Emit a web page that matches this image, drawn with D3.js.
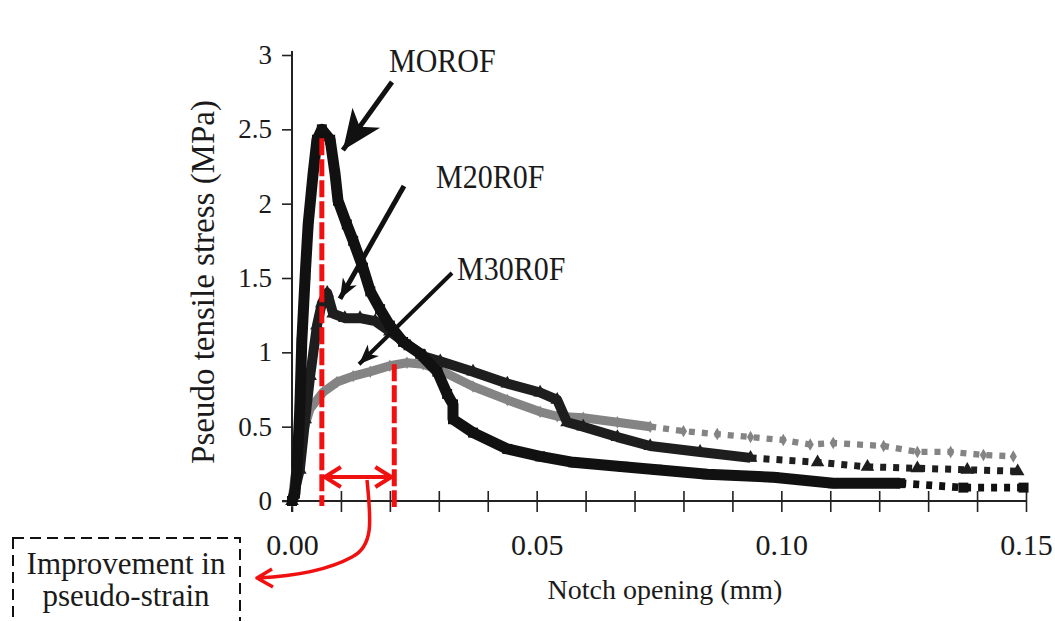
<!DOCTYPE html>
<html lang="en">
<head>
    <meta charset="UTF-8">
    <title>Pseudo tensile stress vs notch opening</title>
    <script src="https://d3js.org/d3.v7.min.js"></script>
    <style>
        body { margin: 0; background: #fff; }
        text { font-family: "Liberation Serif", "Times New Roman", serif; fill: #1a1a1a; }
    </style>
</head>
<body>
    <script>
        // Values: [notch opening (mm), stress (MPa)]
        const m0r0f = [
            [0, 0], [0.0006, 0.05], [0.001, 0.21], [0.0016, 0.62], [0.002, 1.07],
            [0.0027, 1.52], [0.0033, 1.86], [0.0043, 2.2], [0.0051, 2.43], [0.0061, 2.5],
            [0.0078, 2.43], [0.0088, 2.2], [0.0094, 2.02], [0.0112, 1.86], [0.0125, 1.75],
            [0.0145, 1.57], [0.016, 1.41], [0.018, 1.29], [0.02, 1.18], [0.0227, 1.07],
            [0.0262, 0.99], [0.0297, 0.87], [0.0317, 0.72], [0.0329, 0.65], [0.0329, 0.55],
            [0.037, 0.46], [0.044, 0.35], [0.0507, 0.3], [0.0575, 0.26], [0.0677, 0.23],
            [0.0746, 0.21], [0.0849, 0.18], [0.0984, 0.16], [0.1106, 0.12], [0.1243, 0.12],
            [0.1372, 0.09], [0.1495, 0.09]
        ];
        const m20r0f = [
            [0, 0], [0.0016, 0.21], [0.0027, 0.55], [0.0037, 0.84], [0.0051, 1.18],
            [0.0061, 1.33], [0.0072, 1.4], [0.0084, 1.26], [0.0108, 1.23], [0.0139, 1.23],
            [0.017, 1.21], [0.02, 1.14], [0.0241, 1.04], [0.0272, 0.97], [0.0303, 0.94],
            [0.037, 0.87], [0.044, 0.79], [0.0507, 0.73], [0.0542, 0.68], [0.0562, 0.53],
            [0.0595, 0.5], [0.0665, 0.43], [0.0732, 0.37], [0.0834, 0.33], [0.0937, 0.29],
            [0.1074, 0.26], [0.1176, 0.23], [0.1278, 0.22], [0.138, 0.21], [0.1483, 0.2]
        ];
        const m30r0f = [
            [0, 0], [0.0006, 0.16], [0.0016, 0.39], [0.0037, 0.62], [0.0063, 0.73],
            [0.0092, 0.8], [0.0125, 0.84], [0.016, 0.87], [0.02, 0.91], [0.0235, 0.93],
            [0.0268, 0.92], [0.0303, 0.88], [0.037, 0.77], [0.044, 0.68], [0.0507, 0.6],
            [0.0542, 0.57], [0.0595, 0.56], [0.0665, 0.53], [0.0732, 0.5], [0.08, 0.47],
            [0.0869, 0.45], [0.0937, 0.43], [0.1004, 0.41], [0.1059, 0.38], [0.1106, 0.39],
            [0.1209, 0.37], [0.1278, 0.33], [0.1346, 0.33], [0.1413, 0.31], [0.1474, 0.3]
        ];
        const xLabels = [0, 0.05, 0.10, 0.15];
        const yTicks = [0, 0.5, 1, 1.5, 2, 2.5, 3];
        const seriesNames = ['MOROF', 'M20R0F', 'M30R0F'];
        // improvement in pseudo-strain: peak opening of M0R0F vs M30R0F
        const peakOpenings = [0.0061, 0.0209];

        const width = 1055;
        const height = 621;
        const serif = '"Liberation Serif", "Times New Roman", serif';
        const svg = d3.select('body')
            .append('svg')
            .attr('width', width)
            .attr('height', height);

        const x = d3.scaleLinear().domain([0, 0.15]).range([292, 1026]);
        const y = d3.scaleLinear().domain([0, 3]).range([501, 55]);

        // axes
        const xAxis = d3.axisBottom(x)
            .tickValues(d3.range(0, 16).map(i => i / 100))
            .tickSize(10)
            .tickFormat(d => xLabels.some(v => Math.abs(v - d) < 1e-9) ? d3.format('.2f')(d) : '');
        const gx = svg.append('g')
            .attr('transform', `translate(0,${y(0)})`)
            .call(xAxis)
            .attr('font-family', serif)
            .attr('font-size', 30);
        gx.select('.domain').remove();
        gx.selectAll('.tick line').attr('y1', -10).attr('y2', 11)
            .attr('stroke', '#222').attr('stroke-width', 1.6);
        gx.selectAll('.tick text')
            .attr('y', 54)
            .attr('dy', 0)
            .attr('fill', '#1a1a1a');
        svg.append('line')
            .attr('x1', x(0) - 10).attr('x2', x(0.15))
            .attr('y1', y(0)).attr('y2', y(0))
            .attr('stroke', '#222').attr('stroke-width', 2);

        const yAxis = d3.axisLeft(y)
            .tickValues(yTicks)
            .tickSize(10)
            .tickFormat(d3.format('~g'));
        const gy = svg.append('g')
            .attr('transform', `translate(${x(0)},0)`)
            .call(yAxis)
            .attr('font-family', serif)
            .attr('font-size', 27);
        gy.select('.domain').remove();
        gy.selectAll('.tick line').attr('stroke', '#222').attr('stroke-width', 1.6);
        gy.selectAll('.tick text')
            .attr('x', -20)
            .attr('fill', '#1a1a1a');
        svg.append('line')
            .attr('x1', x(0)).attr('x2', x(0))
            .attr('y1', y(3) - 4).attr('y2', y(0) + 11)
            .attr('stroke', '#222').attr('stroke-width', 2);

        // axis titles
        svg.append('text')
            .attr('x', 665)
            .attr('y', 599)
            .attr('text-anchor', 'middle')
            .style('font-size', '28px')
            .text('Notch opening (mm)');
        svg.append('text')
            .attr('transform', 'translate(214,282) rotate(-90)')
            .attr('text-anchor', 'middle')
            .style('font-size', '33px')
            .text('Pseudo tensile stress (MPa)');

        const line = d3.line().x(d => x(d[0])).y(d => y(d[1]));

        // series: dense band up to a point, then separate markers
        function drawSeries(data, color, bandWidth, cut, symbol, size) {
            const dense = data.filter(d => d[0] <= cut);
            const tail = data.filter(d => d[0] >= dense[dense.length - 1][0]);
            svg.append('path')
                .attr('d', line(dense))
                .attr('fill', 'none')
                .attr('stroke', color)
                .attr('stroke-width', bandWidth)
                .attr('stroke-linejoin', 'round');
            svg.append('path')
                .attr('d', line(tail))
                .attr('fill', 'none')
                .attr('stroke', color)
                .attr('stroke-width', bandWidth * 0.7)
                .attr('stroke-dasharray', '6 7');
            svg.append('g')
                .selectAll('path')
                .data(data)
                .enter()
                .append('path')
                .attr('transform', d => `translate(${x(d[0])},${y(d[1])})`)
                .attr('d', d3.symbol().type(symbol).size(size))
                .attr('fill', color);
        }

        drawSeries(m30r0f, '#848484', 9, 0.075, d3.symbolDiamond, 45);
        drawSeries(m20r0f, '#1e1e1e', 10, 0.1, d3.symbolTriangle, 80);
        drawSeries(m0r0f, '#111', 11, 0.125, d3.symbolSquare, 100);

        // arrows pointing to the curves
        function arrow(x1, y1, x2, y2, len, half, w) {
            svg.append('line')
                .attr('x1', x1).attr('y1', y1)
                .attr('x2', x2).attr('y2', y2)
                .attr('stroke', '#111')
                .attr('stroke-width', w);
            const L = Math.hypot(x2 - x1, y2 - y1);
            const ux = (x2 - x1) / L, uy = (y2 - y1) / L;
            const nx = -uy, ny = ux;
            const bx = x2 - len * ux, by = y2 - len * uy;
            const kx = x2 - len * 0.72 * ux, ky = y2 - len * 0.72 * uy;
            svg.append('path')
                .attr('d', `M${x2},${y2}L${bx + half * nx},${by + half * ny}L${kx},${ky}L${bx - half * nx},${by - half * ny}Z`)
                .attr('fill', '#111');
        }
        arrow(392, 82, x(0.0104), y(2.36), 40, 17, 5);
        arrow(404, 186, x(0.0098), y(1.36), 20, 8, 5);
        arrow(452, 273, x(0.0137), y(0.92), 20, 8, 4);

        const labelPos = [[389, 72], [436, 188], [457, 280]];
        svg.selectAll('text.lbl')
            .data(seriesNames)
            .enter()
            .append('text')
            .attr('class', 'lbl')
            .attr('transform', (d, i) => `translate(${labelPos[i][0]},${labelPos[i][1]}) scale(1,1.15)`)
            .style('font-size', '30px')
            .text(d => d);

        // red annotation
        const red = '#f01010';
        svg.append('line')
            .attr('x1', x(peakOpenings[0])).attr('x2', x(peakOpenings[0]))
            .attr('y1', y(2.44)).attr('y2', y(0) + 5)
            .attr('stroke', red).attr('stroke-width', 5)
            .attr('stroke-dasharray', '17 4');
        svg.append('line')
            .attr('x1', x(peakOpenings[1])).attr('x2', x(peakOpenings[1]))
            .attr('y1', y(0.92)).attr('y2', y(0) + 6)
            .attr('stroke', red).attr('stroke-width', 5)
            .attr('stroke-dasharray', '17 4');
        const ay = 477;
        const ax1 = x(peakOpenings[0]) + 3, ax2 = x(peakOpenings[1]) - 3;
        svg.append('path')
            .attr('d', `M${ax1},${ay}H${ax2}M${ax1 + 16},${ay - 10}L${ax1},${ay}L${ax1 + 16},${ay + 10}` +
                `M${ax2 - 16},${ay - 10}L${ax2},${ay}L${ax2 - 16},${ay + 10}`)
            .attr('fill', 'none')
            .attr('stroke', red)
            .attr('stroke-width', 4)
            .attr('stroke-linejoin', 'round');
        svg.append('path')
            .attr('d', 'M367,480C371,520 374,546 352,557C330,569 298,576 258,578' +
                'M272,569L257,578L273,587')
            .attr('fill', 'none')
            .attr('stroke', red)
            .attr('stroke-width', 3.5)
            .attr('stroke-linejoin', 'round');

        // dashed call-out box
        svg.append('rect')
            .attr('x', 13).attr('y', 538)
            .attr('width', 227).attr('height', 110)
            .attr('fill', 'none')
            .attr('stroke', '#111')
            .attr('stroke-width', 2)
            .attr('stroke-dasharray', '11 6');
        svg.append('text')
            .attr('x', 126).attr('y', 574)
            .attr('text-anchor', 'middle')
            .style('font-size', '31px')
            .text('Improvement in');
        svg.append('text')
            .attr('x', 126).attr('y', 606)
            .attr('text-anchor', 'middle')
            .style('font-size', '31px')
            .text('pseudo-strain');
    </script>
</body>
</html>
